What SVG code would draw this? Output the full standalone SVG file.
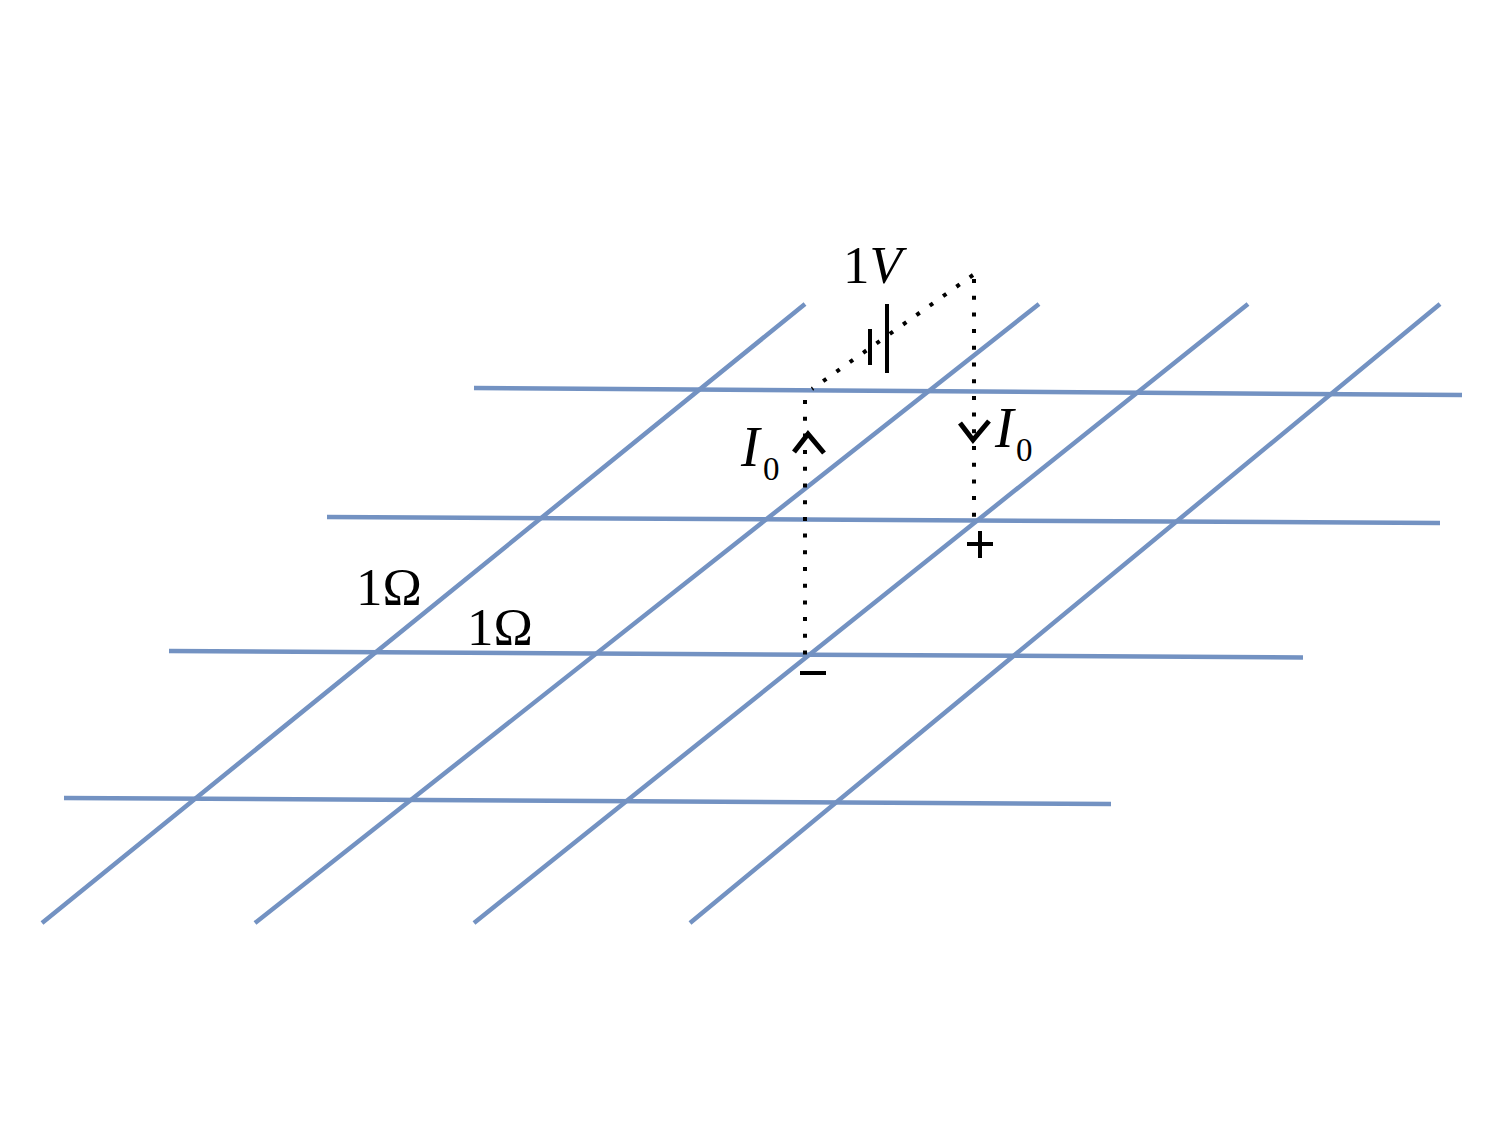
<svg xmlns="http://www.w3.org/2000/svg" width="1500" height="1125" viewBox="0 0 1500 1125">
<style>
.w{stroke:#7392c2;stroke-width:4.500;fill:none}
.d{stroke:#000;stroke-width:4;fill:none;stroke-dasharray:4 12.7}
.dg{stroke:#000;stroke-width:4;fill:none;stroke-dasharray:4 12.330}
.k{stroke:#000;fill:none;stroke-width:4}
.a{stroke:#000;fill:none;stroke-width:5}
text{font-family:"Liberation Serif","Times New Roman",serif;fill:#000}
.m{font-size:53px}
.s{font-size:33px}
.i{font-style:italic}
</style>
<rect width="1500" height="1125" fill="#fff"/>
<g id="connectors">
<path class="w" d="M474 388L1462 395M327 517L1440 523M169 651L1303 657.500M64 798L1111 804"/>
<path class="w" d="M805 304L42 923M1039 304L255 923M1248 304L474 923M1440 304L690 923"/>
<path class="d" d="M974 279V522M805 400V655"/>
<path class="dg" d="M973 275L812 389"/>
</g>
<g id="battery">
<path class="k" d="M870 329V365"/>
<path class="k" d="M887 304V373"/>
</g>
<g id="arrow-left"><path class="a" d="M794 452L808 434L824 453"/></g>
<g id="arrow-right"><path class="a" d="M960 423L973 440L989 421"/></g>
<g id="label-1v"><text class="m" x="843" y="283">1<tspan class="i">V</tspan></text></g>
<g id="label-i0-left"><text class="m i" x="741" y="466" style="font-size:56px">I</text><text class="s" x="763" y="480">0</text></g>
<g id="label-i0-right"><text class="m i" x="995" y="447" style="font-size:56px">I</text><text class="s" x="1016" y="461">0</text></g>
<g id="label-r1"><text class="m" x="356" y="605">1Ω</text></g>
<g id="label-r2"><text class="m" x="467" y="645">1Ω</text></g>
<g id="plus"><path class="k" d="M967 544H993M980 531V558"/></g>
<g id="minus"><path class="k" d="M800 673H826"/></g>
</svg>
